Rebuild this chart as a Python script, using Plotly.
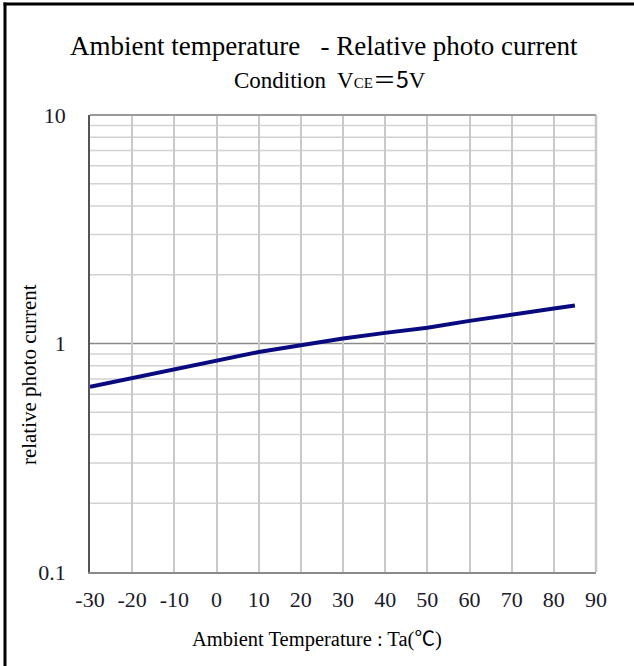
import plotly.graph_objects as go

temperature = [-30, -20, -10, 0, 10, 20, 30, 40, 50, 60, 70, 80, 85]
relative_current = [0.646, 0.705, 0.764, 0.839, 0.918, 0.983, 1.052, 1.113, 1.172, 1.256, 1.343, 1.423, 1.466]

x_ticks = [-30, -20, -10, 0, 10, 20, 30, 40, 50, 60, 70, 80, 90]
y_ticks = [0.1, 1, 10]
y_tick_labels = ["0.1", "1", "10"]
y_minor = [m * d for d in (0.1, 1) for m in range(2, 10)]

title_text = "Ambient temperature   - Relative photo current"
subtitle_text = ("Condition  V<span style='font-size:15px'>CE</span>"
                 "<span style='font-family:Noto Sans CJK JP'>＝5</span>V")
x_title = "Ambient Temperature : Ta(<span style='font-family:Noto Sans CJK JP'>℃</span>)"
y_title = "relative photo current"

serif = "Liberation Serif, Times New Roman, serif"

fig = go.Figure()
fig.add_trace(go.Scatter(
    x=temperature, y=relative_current, mode="lines",
    line=dict(color="#0a0a80", width=4), showlegend=False, hoverinfo="skip"))

# minor horizontal gridlines
for v in y_minor:
    fig.add_shape(type="line", xref="paper", x0=0, x1=1, yref="y", y0=v, y1=v,
                  line=dict(color="#d2d2d2", width=1.5), layer="below")
# decade line at 1
fig.add_shape(type="line", xref="paper", x0=0, x1=1, yref="y", y0=1, y1=1,
              line=dict(color="#8a8a8a", width=1.5), layer="below")

# right and top plot borders
fig.add_shape(type="line", xref="paper", yref="paper", x0=1, x1=1, y0=0, y1=1,
              line=dict(color="#c8c8c8", width=2.5))
fig.add_shape(type="line", xref="paper", yref="paper", x0=0, x1=1, y0=1, y1=1,
              line=dict(color="#9a9a9a", width=2))

# outer frame (left + top)
fig.add_shape(type="line", xref="paper", yref="paper", x0=-0.171, x1=1.08, y0=1.243, y1=1.243,
              line=dict(color="black", width=3))
fig.add_shape(type="line", xref="paper", yref="paper", x0=-0.168, x1=-0.168, y0=1.246, y1=-0.21,
              line=dict(color="black", width=3))

# titles as annotations
fig.add_annotation(text=title_text, xref="paper", yref="paper", x=0.462, y=1.152,
                   xanchor="center", yanchor="middle", showarrow=False,
                   font=dict(size=27, family=serif, color="black"))
fig.add_annotation(text=subtitle_text, xref="paper", yref="paper", x=0.474, y=1.081,
                   xanchor="center", yanchor="middle", showarrow=False,
                   font=dict(size=23, family=serif, color="black"))
fig.add_annotation(text=x_title, xref="paper", yref="paper", x=0.449, y=-0.142,
                   xanchor="center", yanchor="middle", showarrow=False,
                   font=dict(size=20.5, family=serif, color="black"))
fig.add_annotation(text=y_title, xref="paper", yref="paper", x=-0.1206, y=0.433,
                   xanchor="center", yanchor="middle", showarrow=False, textangle=-90,
                   font=dict(size=21, family=serif, color="black"))

fig.update_layout(
    width=634, height=666,
    margin=dict(l=90, r=38, t=115, b=94),
    paper_bgcolor="white", plot_bgcolor="white",
    font=dict(family=serif, color="#1a1a1a"),
    xaxis=dict(
        range=[-30, 90], tickvals=x_ticks, ticktext=[str(t) for t in x_ticks],
        showgrid=True, gridcolor="#c9c9c9", gridwidth=1.5, automargin=False,
        showline=True, linecolor="#8a8a8a", linewidth=2, mirror=False,
        ticks="", ticklabelstandoff=7, zeroline=False,
        tickfont=dict(size=22, family=serif, color="#1a1a2a")),
    yaxis=dict(
        type="log", range=[-1, 1], tickvals=y_ticks, ticktext=y_tick_labels,
        showgrid=False, showline=True, linecolor="#555555", linewidth=1.5,
        ticks="", ticklabelstandoff=18, zeroline=False, automargin=False,
        tickfont=dict(size=22, family=serif, color="#1a1a2a")),
)

fig.write_html("out.html", config={"displayModeBar": False},
               post_script="document.body.style.margin='0px';")
